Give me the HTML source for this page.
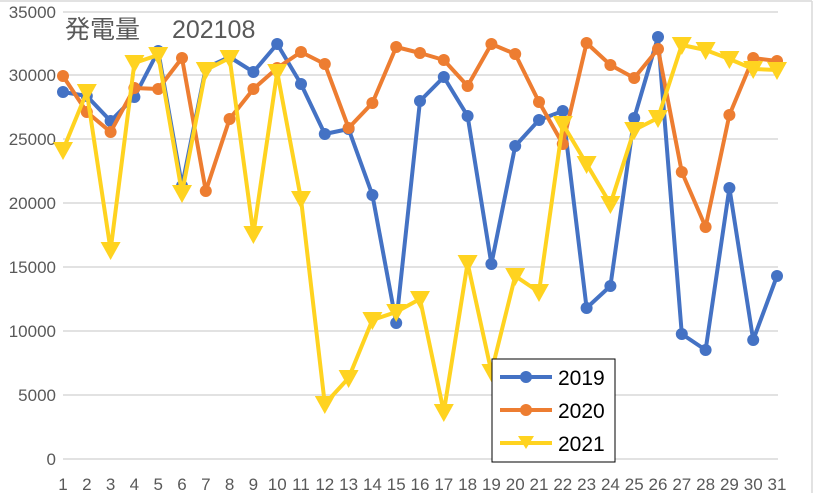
<!DOCTYPE html>
<html><head><meta charset="utf-8"><style>
html,body{margin:0;padding:0;background:#fff;}
svg{display:block;font-family:"Liberation Sans","Noto Sans CJK JP",sans-serif;}
</style></head><body>
<svg id="c" width="814" height="493" viewBox="0 0 814 493" xmlns="http://www.w3.org/2000/svg">
<rect x="0" y="0" width="814" height="493" fill="#fff"/>
<line x1="0" y1="1" x2="812" y2="1" stroke="#d9d9d9" stroke-width="1.5"/>
<line x1="812" y1="1" x2="812" y2="493" stroke="#d9d9d9" stroke-width="1.5"/>
<g stroke="#d9d9d9" stroke-width="1.5">
<line x1="63" y1="12" x2="778" y2="12"/><line x1="63" y1="75" x2="778" y2="75"/>
<line x1="63" y1="139" x2="778" y2="139"/><line x1="63" y1="203" x2="778" y2="203"/>
<line x1="63" y1="267" x2="778" y2="267"/><line x1="63" y1="331" x2="778" y2="331"/>
<line x1="63" y1="395" x2="778" y2="395"/><line x1="63" y1="459" x2="778" y2="459"/>
</g>
<g fill="#595959" font-size="17" text-anchor="end">
<text x="56" y="18">35000</text><text x="56" y="81">30000</text><text x="56" y="145">25000</text>
<text x="56" y="209">20000</text><text x="56" y="273">15000</text><text x="56" y="337">10000</text>
<text x="56" y="401">5000</text><text x="56" y="465">0</text>
</g>
<g fill="#595959" font-size="17" text-anchor="middle">
<text x="63" y="490">1</text><text x="86.8" y="490">2</text><text x="110.6" y="490">3</text><text x="134.4" y="490">4</text><text x="158.2" y="490">5</text><text x="182" y="490">6</text><text x="205.8" y="490">7</text><text x="229.6" y="490">8</text><text x="253.4" y="490">9</text><text x="277.2" y="490">10</text><text x="301" y="490">11</text><text x="324.8" y="490">12</text><text x="348.6" y="490">13</text><text x="372.4" y="490">14</text><text x="396.2" y="490">15</text><text x="420" y="490">16</text><text x="443.8" y="490">17</text><text x="467.6" y="490">18</text><text x="491.4" y="490">19</text><text x="515.2" y="490">20</text><text x="539" y="490">21</text><text x="562.8" y="490">22</text><text x="586.6" y="490">23</text><text x="610.4" y="490">24</text><text x="634.2" y="490">25</text><text x="658" y="490">26</text><text x="681.8" y="490">27</text><text x="705.6" y="490">28</text><text x="729.4" y="490">29</text><text x="753.2" y="490">30</text><text x="777" y="490">31</text>
</g>
<text x="65" y="38" fill="#595959" font-size="25">発電量　 202108</text>
<g id="series"></g>
<rect x="492" y="359" width="123" height="103" fill="#fff" stroke="#000" stroke-width="1"/>
<line x1="500" y1="377" x2="552" y2="377" stroke="#4472c4" stroke-width="4"/><circle cx="526" cy="377" r="6" fill="#4472c4"/>
<line x1="500" y1="410" x2="552" y2="410" stroke="#ed7d31" stroke-width="4"/><circle cx="526" cy="410" r="6" fill="#ed7d31"/>
<line x1="500" y1="443" x2="552" y2="443" stroke="#ffd320" stroke-width="4"/><polygon points="518,436 534,436 526,449" fill="#ffd320"/>
<g font-size="21" fill="#000"><text x="558" y="385">2019</text><text x="558" y="418">2020</text><text x="558" y="451">2021</text></g>
</svg>
<script>
var b=[92,96,121,97,51,186,68,57,72,44,84,134,129,195,323,101,77,116,264,146,120,111,308,286,118,37,334,350,188,340,276];
var o=[76,112,132,88,89,58,191,119,89,68,52,64,128,103,47,53,60,86,44,54,102,144,43,65,78,49,172,227,115,58,61];
var y=[150,92,250,63,55,193,70,58,234,72,199,404,378,320,312,299,412,263,372,276,292,124,164,204,130,118,45,50,59,69,70];
var g=document.getElementById('series'),ns='http://www.w3.org/2000/svg';
function X(i){return 63+i*23.8;}
function line(d,c){var p=document.createElementNS(ns,'polyline');p.setAttribute('points',d.map(function(v,i){return X(i)+','+v}).join(' '));p.setAttribute('fill','none');p.setAttribute('stroke',c);p.setAttribute('stroke-width','4');p.setAttribute('stroke-linejoin','round');g.appendChild(p);}
function dots(d,c){d.forEach(function(v,i){var e=document.createElementNS(ns,'circle');e.setAttribute('cx',X(i));e.setAttribute('cy',v);e.setAttribute('r','6');e.setAttribute('fill',c);g.appendChild(e);});}
function tris(d,c){d.forEach(function(v,i){var x=X(i),e=document.createElementNS(ns,'polygon');e.setAttribute('points',(x-10)+','+(v-8)+' '+(x+10)+','+(v-8)+' '+x+','+(v+10));e.setAttribute('fill',c);g.appendChild(e);});}
line(b,'#4472c4');dots(b,'#4472c4');
line(o,'#ed7d31');dots(o,'#ed7d31');
line(y,'#ffd320');tris(y,'#ffd320');
</script>
</body></html>
